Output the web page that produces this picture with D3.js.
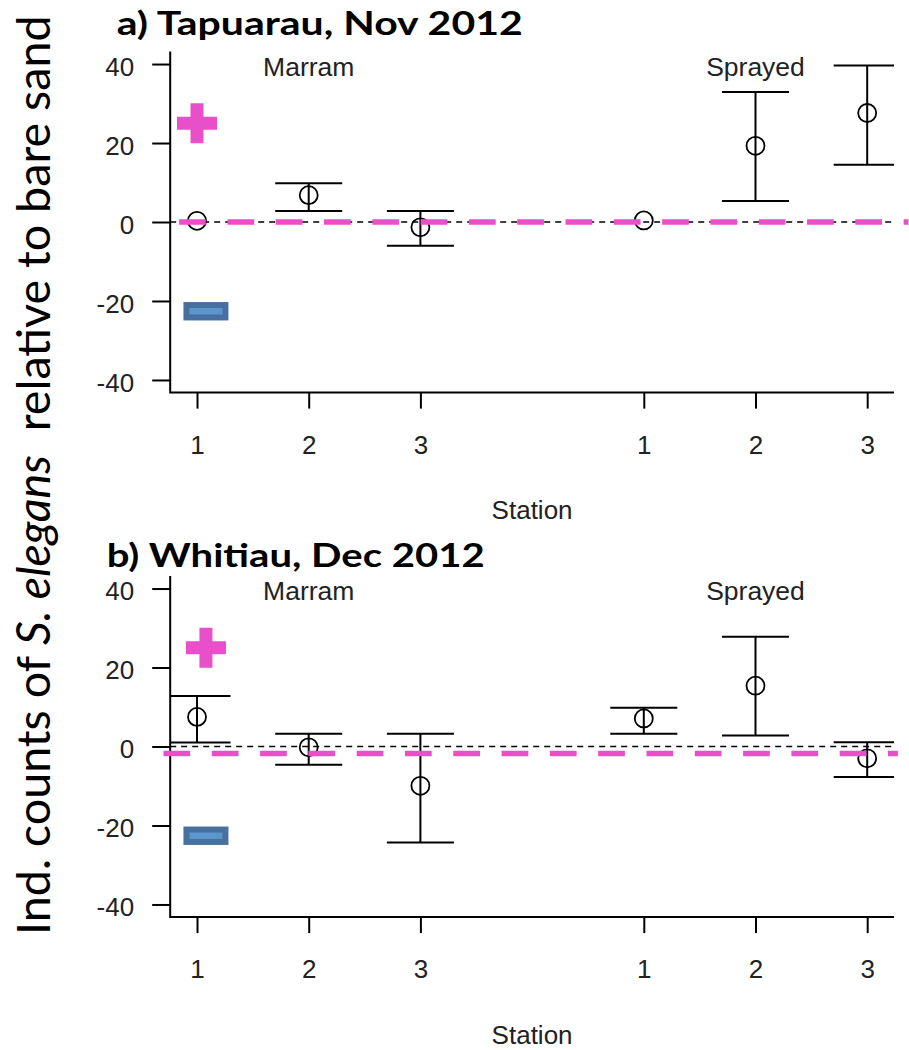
<!DOCTYPE html>
<html>
<head>
<meta charset="utf-8">
<script src="https://cdn.jsdelivr.net/npm/d3@7"></script>
<style>
  html, body { margin: 0; padding: 0; background: #fff; }
  svg { display: block; }
</style>
</head>
<body>
<svg id="chart" width="909" height="1050"></svg>
<script>
// ---------------- data ----------------
const stationPos = [1, 2, 3, 5, 6, 7];
const stationLabels = ["1", "2", "3", "1", "2", "3"];
const yTicks = [-40, -20, 0, 20, 40];
const panelTitles = ["a) Tapuarau, Nov 2012", "b) Whitiau, Dec 2012"];
const treatmentLabels = ["Marram", "Sprayed"];
const treatmentPos = [2, 6];
const treatmentLabelY = [37, 37];

// panel a (Tapuarau)
const meanA = [0.3, 6.8, -1.35, 0.4, 19.3, 27.6];
const lowA  = [null, 2.8, -6.0, null, 5.3, 14.5];
const highA = [null, 9.8, 2.8, null, 32.9, 39.6];
// panel b (Whitiau)
const meanB = [7.5, -0.2, -9.95, 7.1, 15.4, -3.0];
const lowB  = [1.0, -4.6, -24.3, 3.2, 2.8, -7.7];
const highB = [12.8, 3.2, 3.2, 9.8, 27.8, 1.1];

// magenta reference (bare sand) lines per panel
const refY  = [0, -1.8];
const refX0 = [0.84, 0.70];
const refX1 = [7.37, 7.275];
// +/- symbols per panel
const plusX = [1.0, 1.08];
const plusY = [25, 25];
const minusX = [1.08, 1.08];
const minusY = [-22.6, -22.6];

const panels = [
  {title: panelTitles[0], mean: meanA, low: lowA, high: highA, ref: refY[0], rx0: refX0[0], rx1: refX1[0], px: plusX[0], py: plusY[0], mx: minusX[0], my: minusY[0]},
  {title: panelTitles[1], mean: meanB, low: lowB, high: highB, ref: refY[1], rx0: refX0[1], rx1: refX1[1], px: plusX[1], py: plusY[1], mx: minusX[1], my: minusY[1]}
];

// ---------------- layout ----------------
const svg = d3.select("#chart");
const left = 170.2, right = 894;
const panelTop = [51.4, 575.9];
const panelH = 341.2;
const magenta = "#e84fc8";
const axisFont = "'Liberation Sans', Arial, sans-serif";
const titleFont = "Lato, 'Open Sans', sans-serif";

const x = d3.scaleLinear().domain([0.76, 7.24]).range([left, right]);

svg.append("defs").append("clipPath").attr("id", "plotclip")
  .append("rect").attr("x", left).attr("y", 0).attr("width", right - left).attr("height", 1050);

const titleLeft = [116.7, 106.7];
const titleWidth = [406, 378];
const titleBase = [35, 567.3];

panels.forEach((p, i) => {
  const top = panelTop[i];
  const bottom = top + panelH;
  const y = d3.scaleLinear().domain([-43.2, 43.2]).range([bottom, top]);
  const g = svg.append("g");

  // title (tall, slightly condensed to mimic the reference face)
  g.append("text")
    .attr("x", titleLeft[i]).attr("y", titleBase[i])
    .attr("font-family", titleFont).attr("font-weight", 700)
    .attr("font-size", 33).attr("fill", "#000")
    .attr("textLength", titleWidth[i]).attr("lengthAdjust", "spacingAndGlyphs")
    .text(p.title);

  // y axis
  const ya = g.append("g").attr("transform", `translate(${left},0)`)
    .call(d3.axisLeft(y).tickValues(yTicks).tickSize(18).tickPadding(18).tickFormat(d3.format("d")));
  ya.select(".domain").remove();
  ya.selectAll(".tick line").attr("stroke", "#000").attr("stroke-width", 2);
  ya.selectAll(".tick text").attr("font-family", axisFont).attr("font-size", 26)
    .attr("fill", "#222").attr("dy", "0.44em")
    .text(d => d < 0 ? "-" + Math.abs(d) : d);

  // x axis
  const xa = g.append("g").attr("transform", `translate(0,${bottom})`)
    .call(d3.axisBottom(x).tickValues(stationPos).tickSize(16).tickPadding(26.5)
      .tickFormat((d, k) => stationLabels[k]));
  xa.select(".domain").remove();
  xa.selectAll(".tick line").attr("stroke", "#000").attr("stroke-width", 2);
  xa.selectAll(".tick text").attr("font-family", axisFont).attr("font-size", 26).attr("fill", "#222");

  // L-shaped box
  g.append("path")
    .attr("d", `M${left},${top}V${bottom}H${right}`)
    .attr("fill", "none").attr("stroke", "#000").attr("stroke-width", 2);

  // x label
  g.append("text")
    .attr("x", x(4)).attr("y", bottom + 126.5)
    .attr("text-anchor", "middle")
    .attr("font-family", axisFont).attr("font-size", 26).attr("fill", "#222")
    .text("Station");

  // treatment labels
  g.selectAll("text.treat").data(treatmentLabels).enter().append("text")
    .attr("class", "treat")
    .attr("x", (d, k) => x(treatmentPos[k]))
    .attr("y", (d, k) => y(treatmentLabelY[k]))
    .attr("text-anchor", "middle")
    .attr("font-family", axisFont).attr("font-size", 26.5).attr("fill", "#222")
    .text(d => d);

  // black dashed zero line
  g.append("line")
    .attr("x1", left).attr("x2", right).attr("y1", y(0)).attr("y2", y(0))
    .attr("stroke", "#000").attr("stroke-width", 1.6).attr("stroke-dasharray", "6,5");

  // error bars & points (clipped to plot area)
  const data = stationPos.map((s, k) => ({s, m: p.mean[k], lo: p.low[k], hi: p.high[k]}));
  const dg = g.append("g").attr("clip-path", "url(#plotclip)");
  const capHalf = 0.3;
  const eb = data.filter(d => d.lo !== null);
  dg.selectAll("line.v").data(eb).enter().append("line")
    .attr("x1", d => x(d.s)).attr("x2", d => x(d.s))
    .attr("y1", d => y(d.lo)).attr("y2", d => y(d.hi))
    .attr("stroke", "#000").attr("stroke-width", 2);
  dg.selectAll("line.cl").data(eb).enter().append("line")
    .attr("x1", d => x(d.s - capHalf)).attr("x2", d => x(d.s + capHalf))
    .attr("y1", d => y(d.lo)).attr("y2", d => y(d.lo))
    .attr("stroke", "#000").attr("stroke-width", 2);
  dg.selectAll("line.ch").data(eb).enter().append("line")
    .attr("x1", d => x(d.s - capHalf)).attr("x2", d => x(d.s + capHalf))
    .attr("y1", d => y(d.hi)).attr("y2", d => y(d.hi))
    .attr("stroke", "#000").attr("stroke-width", 2);
  dg.selectAll("circle").data(data).enter().append("circle")
    .attr("cx", d => x(d.s)).attr("cy", d => y(d.m)).attr("r", 9)
    .attr("fill", "none").attr("stroke", "#000").attr("stroke-width", 1.8);

  // magenta bare-sand reference line
  g.append("line")
    .attr("x1", x(p.rx0)).attr("x2", x(p.rx1)).attr("y1", y(p.ref)).attr("y2", y(p.ref))
    .attr("stroke", magenta).attr("stroke-width", 5.5).attr("stroke-dasharray", "26.7,21.6");

  // plus symbol
  const px = x(p.px), py = y(p.py);
  g.append("path")
    .attr("d", `M${px - 20},${py - 6.5}H${px + 20}V${py + 6.5}H${px - 20}Z M${px - 6.5},${py - 20}H${px + 6.5}V${py + 20}H${px - 6.5}Z`)
    .attr("fill", magenta);

  // minus symbol
  const mx = x(p.mx), my = y(p.my);
  g.append("rect")
    .attr("x", mx - 19.5).attr("y", my - 6.2).attr("width", 39).attr("height", 12.4)
    .attr("fill", "#5d96cd").attr("stroke", "#47709e").attr("stroke-width", 6);
});

// y-axis title (rotated)
const yl = svg.append("text")
  .attr("transform", "translate(50,935) rotate(-90)")
  .attr("font-family", titleFont).attr("font-size", 40).attr("fill", "#000")
  .style("white-space", "pre");
yl.append("tspan").text("Ind. counts of ");
yl.append("tspan").attr("font-style", "italic").text("S. elegans");
yl.append("tspan").text("  relative to bare sand");
const len = yl.node().getComputedTextLength();
yl.attr("font-size", 40 * 920 / len);
</script>
</body>
</html>
